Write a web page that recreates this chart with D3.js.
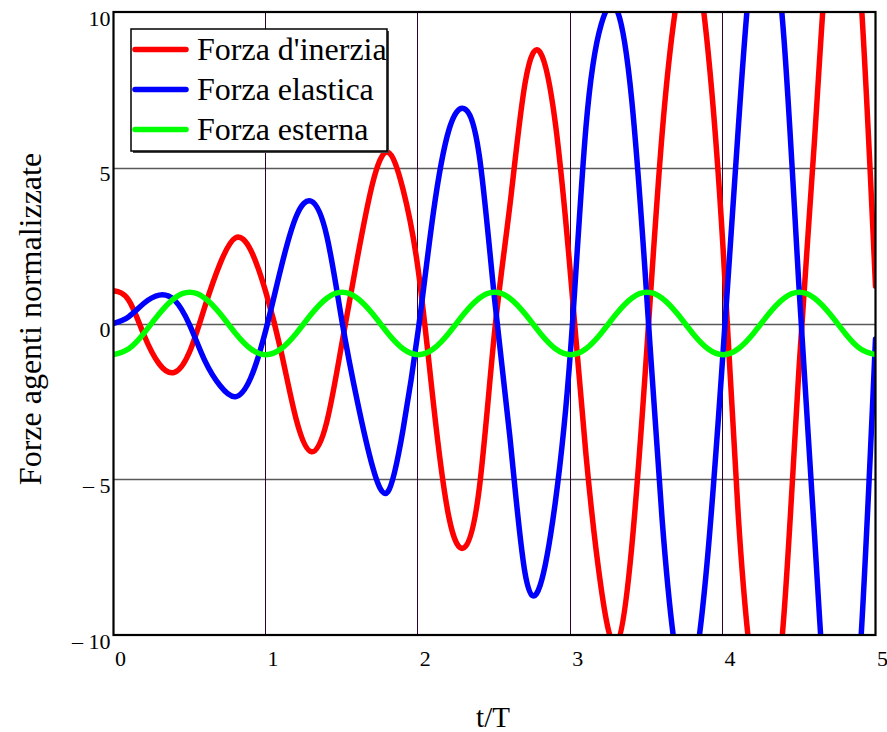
<!DOCTYPE html>
<html lang="it">
<head>
<meta charset="utf-8">
<title>Forze agenti normalizzate</title>
<script src="https://cdn.jsdelivr.net/npm/d3@7"></script>
<style>
  body { margin: 0; background: #fff; }
  svg { display: block; }
  svg text { font-family: "Liberation Serif", "Times New Roman", serif; }
</style>
</head>
<body>
<script>
// t/T campionato ogni 0.1
var tT = [0.0,0.1,0.2,0.3,0.4,0.5,0.6,0.7,0.8,0.9,
          1.0,1.1,1.2,1.3,1.4,1.5,1.6,1.7,1.8,1.9,
          2.0,2.1,2.2,2.3,2.4,2.5,2.6,2.7,2.8,2.9,
          3.0,3.1,3.2,3.3,3.4,3.5,3.6,3.7,3.8,3.9,
          4.0,4.1,4.2,4.3,4.4,4.5,4.6,4.7,4.8,4.9,5.0];

var inerzia = [1.05,0.75,-0.37,-1.3,-1.57,-0.9,0.55,1.93,2.75,2.36,
               1.0,-0.9,-3.1,-4.12,-3.15,-0.6,2.1,4.5,5.5,4.3,
               1.7,-2.6,-6.2,-7.2,-5.3,-0.3,3.75,7.7,8.7,6.4,
               1.5,-4.2,-8.5,-10.3,-7.2,-0.8,6.1,10.5,11.9,8.8,
               2.4,-6.2,-11.5,-12.9,-9.3,-1.3,5.9,13.0,14.7,10.8,1.2];

var elastica = [0,0.22,0.65,0.91,0.75,-0.05,-1.2,-2.0,-2.35,-1.75,
                -0.2,1.8,3.45,3.92,2.8,0.05,-2.5,-4.6,-5.4,-3.4,
                -0.2,3.6,6.2,6.9,5.4,0.8,-3.6,-8.0,-8.4,-5.7,
                -0.8,6.3,9.6,10.1,7.2,0.8,-6.3,-10.9,-11.3,-7.4,
                -0.9,6.3,12.2,13.0,9.1,1.0,-6.8,-14.0,-15.2,-10.5,-0.5];

var esterna = [-1,-0.81,-0.31,0.31,0.81,1,0.81,0.31,-0.31,-0.81,
               -1,-0.81,-0.31,0.31,0.81,1,0.81,0.31,-0.31,-0.81,
               -1,-0.81,-0.31,0.31,0.81,1,0.81,0.31,-0.31,-0.81,
               -1,-0.81,-0.31,0.31,0.81,1,0.81,0.31,-0.31,-0.81,
               -1,-0.81,-0.31,0.31,0.81,1,0.81,0.31,-0.31,-0.81,-1];

var names = ["Forza d'inerzia", "Forza elastica", "Forza esterna"];
var colors = ["#ff0000", "#0000ff", "#00ff00"];
var xTicks = [0, 1, 2, 3, 4, 5];
var yTicks = [-10, -5, 0, 5, 10];

var w = 887, h = 732;
var pL = 113.5, pR = 875.5, pT = 12, pB = 635;

var svg = d3.select("body").append("svg")
    .attr("width", w)
    .attr("height", h);

var x = d3.scaleLinear().domain([0, 5]).range([pL, pR]);
var y = d3.scaleLinear().domain([-10, 10]).range([pB, pT]);

// griglia
svg.append("g").selectAll("line")
    .data([-5, 0, 5]).enter().append("line")
    .attr("x1", pL).attr("x2", pR)
    .attr("y1", function (d) { return Math.round(y(d)) + 0.5; })
    .attr("y2", function (d) { return Math.round(y(d)) + 0.5; })
    .attr("stroke", "#5a5a5a")
    .attr("stroke-width", 1.4);

svg.append("g").selectAll("line")
    .data([1, 2, 3, 4]).enter().append("line")
    .attr("y1", pT).attr("y2", pB)
    .attr("x1", function (d) { return Math.round(x(d)) - 0.5; })
    .attr("x2", function (d) { return Math.round(x(d)) - 0.5; })
    .attr("stroke", "#300030")
    .attr("stroke-width", 1);

// curve
svg.append("clipPath").attr("id", "clip")
  .append("rect")
    .attr("x", pL).attr("y", pT)
    .attr("width", pR - pL).attr("height", pB - pT);

var series = [inerzia, elastica, esterna];
var line = d3.line()
    .x(function (d, i) { return x(tT[i]); })
    .y(function (d) { return y(d); })
    .curve(d3.curveNatural);

svg.append("g").attr("clip-path", "url(#clip)")
  .selectAll("path")
    .data(series).enter().append("path")
    .attr("d", line)
    .attr("fill", "none")
    .attr("stroke", function (d, i) { return colors[i]; })
    .attr("stroke-width", 5.5)
    .attr("stroke-linejoin", "round")
    .attr("stroke-linecap", "round");

// cornice
svg.append("rect")
    .attr("x", pL).attr("y", pT)
    .attr("width", pR - pL).attr("height", pB - pT)
    .attr("fill", "none")
    .attr("stroke", "#000")
    .attr("stroke-width", 2.2);

// assi (solo etichette)
var xAxis = svg.append("g")
    .attr("transform", "translate(0," + pB + ")")
    .call(d3.axisBottom(x).tickValues(xTicks).tickSize(0).tickFormat(d3.format("d")));
xAxis.select(".domain").remove();
xAxis.attr("font-size", null).attr("font-family", null);
xAxis.selectAll("text")
    .attr("y", 31).attr("dy", null).attr("x", 1)
    .attr("text-anchor", "start")
    .attr("fill", "#000")
    .style("font-size", "22px");

var yAxis = svg.append("g")
    .attr("transform", "translate(" + pL + ",0)")
    .call(d3.axisLeft(y).tickValues(yTicks).tickSize(0)
        .tickFormat(function (d) { return d < 0 ? "\u2013 " + (-d) : String(d); }));
yAxis.select(".domain").remove();
yAxis.attr("font-size", null).attr("font-family", null);
yAxis.selectAll("text")
    .attr("x", -3).attr("y", 13).attr("dy", null)
    .attr("text-anchor", "end")
    .attr("fill", "#000")
    .style("font-size", "22px");

// titoli
svg.append("text")
    .attr("x", 493).attr("y", 727)
    .attr("text-anchor", "middle")
    .style("font-size", "29px")
    .text("t/T");

svg.append("text")
    .attr("transform", "translate(41,319) rotate(-90)")
    .attr("text-anchor", "middle")
    .style("font-size", "32px")
    .text("Forze agenti normalizzate");

// legenda
var leg = svg.append("g");
leg.append("rect")
    .attr("x", 133).attr("y", 31).attr("width", 256).attr("height", 122)
    .attr("fill", "#444");
leg.append("rect")
    .attr("x", 131).attr("y", 29).attr("width", 256).attr("height", 122)
    .attr("fill", "#fff")
    .attr("stroke", "#000")
    .attr("stroke-width", 1.5);

var rows = leg.selectAll("g.row")
    .data(names).enter().append("g")
    .attr("class", "row")
    .attr("transform", function (d, i) { return "translate(0," + (49.5 + i * 40) + ")"; });
rows.append("line")
    .attr("x1", 135).attr("x2", 186)
    .attr("stroke", function (d, i) { return colors[i]; })
    .attr("stroke-width", 5.5)
    .attr("stroke-linecap", "round");
rows.append("text")
    .attr("x", 197).attr("y", 10.5)
    .style("font-size", "32px")
    .text(function (d) { return d; });
</script>
</body>
</html>
